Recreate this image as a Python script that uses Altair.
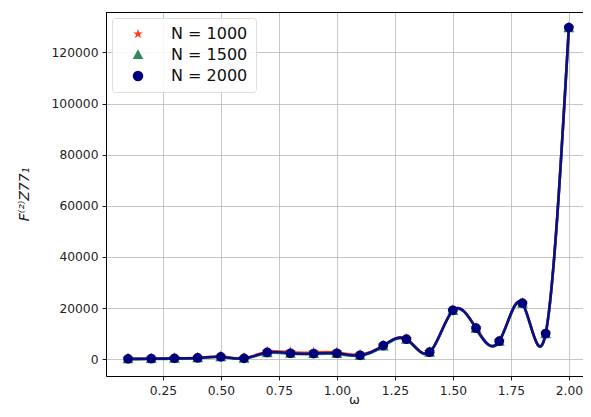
import altair as alt
import pandas as pd

omega = [0.1, 0.2, 0.3, 0.4, 0.5, 0.6, 0.7, 0.8, 0.9, 1.0,
         1.1, 1.2, 1.3, 1.4, 1.5, 1.6, 1.7, 1.8, 1.9, 2.0]
f_n1000 = [150, 200, 350, 550, 1000, 350, 2900, 2700, 2600, 2600,
           1800, 5300, 7900, 2700, 19100, 12100, 7000, 21900, 10000, 129700]
f_n1500 = [0, 50, 200, 350, 800, 200, 2300, 2100, 2000, 2000,
           1300, 5000, 7600, 2500, 18900, 11900, 6800, 21700, 9800, 129500]
f_n2000 = [100, 150, 300, 450, 900, 300, 2600, 2300, 2200, 2300,
           1500, 5300, 7800, 2700, 19100, 12100, 7000, 21900, 10000, 129700]

series = ["N = 1000", "N = 1500", "N = 2000"]
line_colors = ["#ff4500", "#2e8b57", "#0d0d8c"]
marker_colors = ["#ff3d1f", "#2e8b57", "#00007a"]
shapes = ["M0,-1L0.2245,-0.309L0.951,-0.309L0.363,0.118L0.588,0.809L0,0.382L-0.588,0.809L-0.363,0.118L-0.951,-0.309L-0.2245,-0.309Z",
          "M0,-1.1L1,0.75L-1,0.75Z", "circle"]
sizes = [150, 120, 95]

rows = []
for s, vals in zip(series, [f_n1000, f_n1500, f_n2000]):
    for x, v in zip(omega, vals):
        rows.append({"omega": x, "F": v, "series": s})
df = pd.DataFrame(rows)

W, H = 477, 364
xscale = alt.Scale(domain=[0.005, 2.061], nice=False, zero=False)
yscale = alt.Scale(domain=[-6600, 135800], nice=False, zero=False)

xaxis = alt.Axis(title="ω", values=[0.25, 0.5, 0.75, 1.0, 1.25, 1.5, 1.75, 2.0],
                 format=".2f", labelFontSize=12.3, titleFontSize=13, titleFont="DejaVu Sans",
                 labelFont="DejaVu Sans", labelColor="#222", tickSize=4, tickColor="#222",
                 domainColor="#000", gridColor="#b8b8b8", gridWidth=0.8,
                 titleFontWeight="normal", titleColor="#222", labelPadding=4,
                 titleX=248, titleY=17, titleBaseline="top")
yaxis = alt.Axis(title="F⁽²⁾Z77₁", values=[0, 20000, 40000, 60000, 80000, 100000, 120000],
                 format="d", labelFontSize=12.3, titleFontSize=14, labelFont="DejaVu Sans",
                 titleFont="DejaVu Sans", titleFontStyle="italic", labelColor="#222",
                 tickSize=4, tickColor="#222",
                 domainColor="#000", gridColor="#b8b8b8", gridWidth=0.8, titlePadding=20,
                 titleFontWeight="normal", titleColor="#222", labelPadding=4)

base = alt.Chart(df)
top_rule = alt.Chart(df).mark_rule(color="#000", strokeWidth=1).encode(
    x=alt.value(0), x2=alt.value(W), y=alt.value(0.5))
layers = []
for i, s in enumerate(series):
    sub = base.transform_filter(alt.datum.series == s)
    line = sub.mark_line(interpolate="natural", strokeWidth=2.6, color=line_colors[i]).encode(
        x=alt.X("omega:Q", scale=xscale, axis=xaxis),
        y=alt.Y("F:Q", scale=yscale, axis=yaxis),
    )
    pts = sub.mark_point(filled=True, opacity=1, size=sizes[i]).encode(
        x=alt.X("omega:Q", scale=xscale, axis=xaxis),
        y=alt.Y("F:Q", scale=yscale, axis=yaxis),
        color=alt.Color("series:N", scale=alt.Scale(domain=series, range=marker_colors),
                        legend=alt.Legend(title=None, orient="none", legendX=6, legendY=6,
                                          labelFontSize=16, labelFont="DejaVu Sans",
                                          labelColor="#111", symbolSize=110,
                                          fillColor="rgba(255,255,255,0.85)",
                                          strokeColor="#dddddd", cornerRadius=3,
                                          padding=8, rowPadding=5, labelOffset=25,
                                          symbolOffset=10)),
        shape=alt.Shape("series:N", scale=alt.Scale(domain=series, range=shapes)),
    )
    layers += [line, pts]

chart = alt.layer(*layers, top_rule).properties(
    width=W, height=H,
    autosize=alt.AutoSizeParams(type="none"),
    padding={"left": 98, "top": 4, "right": 0, "bottom": 33},
).configure_view(stroke=None).configure(background="white")

chart.save("out.html", embed_options={"renderer": "svg", "actions": False})
